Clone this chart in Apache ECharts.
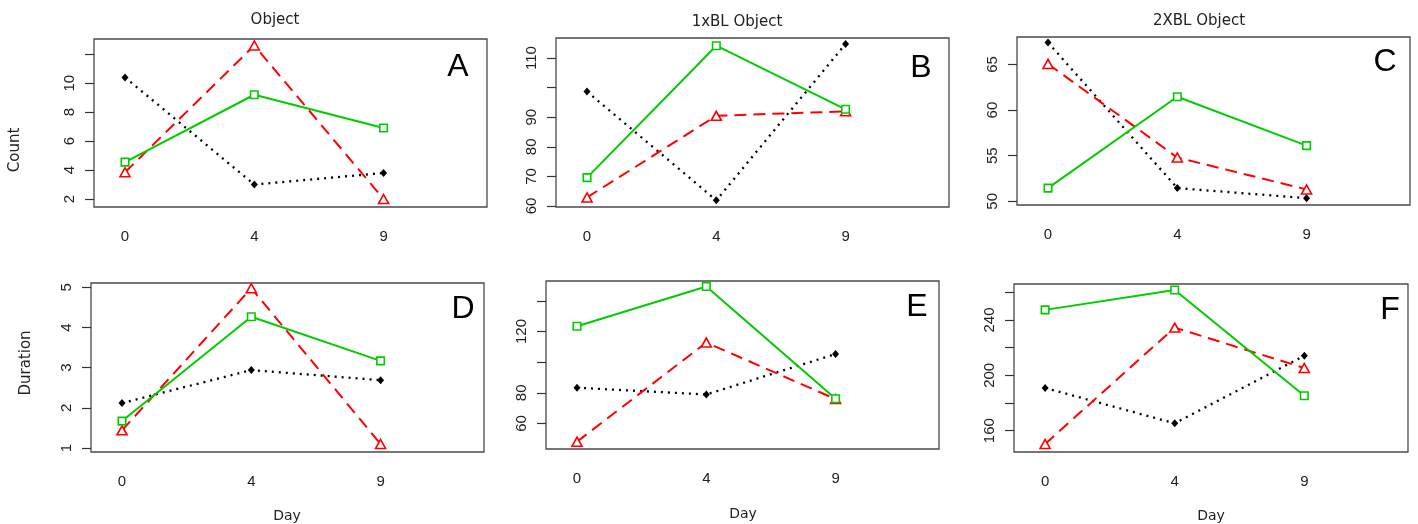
<!DOCTYPE html>
<html><head><meta charset="utf-8">
<script src="https://cdn.jsdelivr.net/npm/echarts@6/dist/echarts.min.js"></script>
<style>html,body{margin:0;padding:0;background:#fff}#c{width:1418px;height:524px}</style>
</head><body><div id="c"></div><script>
// ---------- data ----------
const days = ['0', '4', '9'];
const panelTitles = ['Object', '1xBL Object', '2XBL Object', '', '', ''];
const panelLetters = ['A', 'B', 'C', 'D', 'E', 'F'];

// black = filled diamond, dotted ; red = open triangle, dashed ; green = open square, solid
const blackA = [10.4, 3.0, 3.8];
const redA   = [3.85, 12.6, 2.0];
const greenA = [4.55, 9.2, 6.9];

const blackB = [98.7, 61.9, 114.8];
const redB   = [62.9, 90.5, 92.0];
const greenB = [69.6, 114.2, 92.7];

const blackC = [67.4, 51.45, 50.35];
const redC   = [65.05, 54.8, 51.3];
const greenC = [51.45, 61.45, 56.1];

const blackD = [2.12, 2.94, 2.69];
const redD   = [1.44, 4.98, 1.10];
const greenD = [1.67, 4.27, 3.17];

const blackE = [83.3, 78.9, 105.3];
const redE   = [48.1, 112.8, 75.9];
const greenE = [123.5, 149.4, 76.1];

const blackF = [190.9, 165.3, 214.2];
const redF   = [150.4, 234.5, 205.3];
const greenF = [247.3, 261.7, 185.3];

// y-axis ticks and labels
const ticksA = [2, 4, 6, 8, 10, 12],        labelsA = [2, 4, 6, 8, 10];
const ticksB = [60, 70, 80, 90, 100, 110],  labelsB = [60, 70, 80, 90, 110];
const ticksC = [50, 55, 60, 65],            labelsC = [50, 55, 60, 65];
const ticksD = [1, 2, 3, 4, 5],             labelsD = [1, 2, 3, 4, 5];
const ticksE = [60, 80, 100, 120, 140],     labelsE = [60, 80, 120];
const ticksF = [160, 180, 200, 220, 240, 260], labelsF = [160, 200, 240];

// ---------- layout ----------
const panels = [
  {grid:{left:94,  top:39,  width:393, height:168}, ymin:1.45, ymax:13.05, ticks:ticksA, labels:labelsA, s:[blackA,redA,greenA]},
  {grid:{left:556, top:38,  width:393, height:169}, ymin:59.66, ymax:116.8, ticks:ticksB, labels:labelsB, s:[blackB,redB,greenB]},
  {grid:{left:1017,top:37,  width:393, height:168}, ymin:49.6, ymax:68.0, ticks:ticksC, labels:labelsC, s:[blackC,redC,greenC]},
  {grid:{left:91,  top:283, width:393, height:169}, ymin:0.9, ymax:5.11, ticks:ticksD, labels:labelsD, s:[blackD,redD,greenD]},
  {grid:{left:546, top:281, width:393, height:168}, ymin:43.3, ymax:153, ticks:ticksE, labels:labelsE, s:[blackE,redE,greenE]},
  {grid:{left:1014,top:284, width:394, height:168}, ymin:144.6, ymax:266, ticks:ticksF, labels:labelsF, s:[blackF,redF,greenF]}
];
const titlePos  = [[275, 20], [737, 22], [1199, 21]];
const letterPos = [[458, 67], [921, 68], [1385, 62], [463, 309], [917, 307], [1390, 310]];

const TICKFONT = '"Liberation Sans", Arial, sans-serif';
const FONT = '"DejaVu Sans", sans-serif';
const TXT = '#222';

const styles = [
  {symbol:'diamond',  size:[7,8], fill:'#000', stroke:'#000', bw:0, line:{color:'#000', width:2.3, type:[2,5]}},
  {symbol:'triangle', size:[10,9], fill:'#fff', stroke:'#ff0000', bw:1.6, line:{color:'#ff0000', width:2, type:[12,7]}},
  {symbol:'rect',     size:[7.5,7.5], fill:'#fff', stroke:'#00cc00', bw:1.6, line:{color:'#00cc00', width:2, type:'solid'}}
];

const grids = [], xAxes = [], yAxes = [], series = [], graphics = [];
panels.forEach((p, i) => {
  grids.push(Object.assign({show:true, borderColor:'#4a4a4a', borderWidth:1.3, backgroundColor:'transparent', containLabel:false}, p.grid));
  xAxes.push({
    type:'value', gridIndex:i, min:-0.24, max:2.8,
    axisLine:{show:false, onZero:false}, axisTick:{show:false}, splitLine:{show:false},
    axisLabel:{customValues:[0,1,2], formatter:(v)=>days[Math.round(v)], margin:22,
      fontFamily:TICKFONT, fontSize:15, color:TXT}
  });
  yAxes.push({
    type:'value', gridIndex:i, min:p.ymin, max:p.ymax,
    axisLine:{show:false, onZero:false}, splitLine:{show:false},
    axisTick:{show:true, customValues:p.ticks, length:9, lineStyle:{color:'#333', width:1.2}},
    axisLabel:{customValues:p.labels, rotate:90, margin:17, fontFamily:TICKFONT, fontSize:15, color:TXT}
  });
  p.s.forEach((vals, k) => {
    const st = styles[k];
    series.push({
      type:'line', xAxisIndex:i, yAxisIndex:i,
      data: vals.map((v, j) => [j, v]),
      symbol: st.symbol, symbolSize: st.size, showSymbol:true,
      itemStyle:{color:st.fill, borderColor:st.stroke, borderWidth:st.bw},
      lineStyle:st.line, z: 2 + k,
      emphasis:{disabled:true}, silent:true, animation:false
    });
  });
  graphics.push({type:'text', x:letterPos[i][0], y:letterPos[i][1],
    style:{text:panelLetters[i], font:'32px "Liberation Sans", sans-serif', fill:'#000',
      align:'center', verticalAlign:'middle', textAlign:'center', textVerticalAlign:'middle'}});
  if (panelTitles[i]) {
    graphics.push({type:'text', x:titlePos[i][0], y:titlePos[i][1],
      style:{text:panelTitles[i], font:'15px ' + FONT, fill:TXT,
        align:'center', verticalAlign:'middle', textAlign:'center', textVerticalAlign:'middle'}});
  }
});
// axis names
graphics.push({type:'text', x:15, y:150, rotation:Math.PI/2,
  style:{text:'Count', font:'15px ' + FONT, fill:TXT, align:'center', verticalAlign:'middle', textAlign:'center', textVerticalAlign:'middle'}});
graphics.push({type:'text', x:26, y:363, rotation:Math.PI/2,
  style:{text:'Duration', font:'15px ' + FONT, fill:TXT, align:'center', verticalAlign:'middle', textAlign:'center', textVerticalAlign:'middle'}});
[[287, 516], [743, 514], [1211, 516]].forEach(pos => {
  graphics.push({type:'text', x:pos[0], y:pos[1],
    style:{text:'Day', font:'14px ' + FONT, fill:TXT, align:'center', verticalAlign:'middle', textAlign:'center', textVerticalAlign:'middle'}});
});

const chart = echarts.init(document.getElementById('c'), null, {renderer:'canvas'});
chart.setOption({
  backgroundColor:'#fff', animation:false,
  grid:grids, xAxis:xAxes, yAxis:yAxes, series:series, graphic:graphics
});
</script></body></html>
